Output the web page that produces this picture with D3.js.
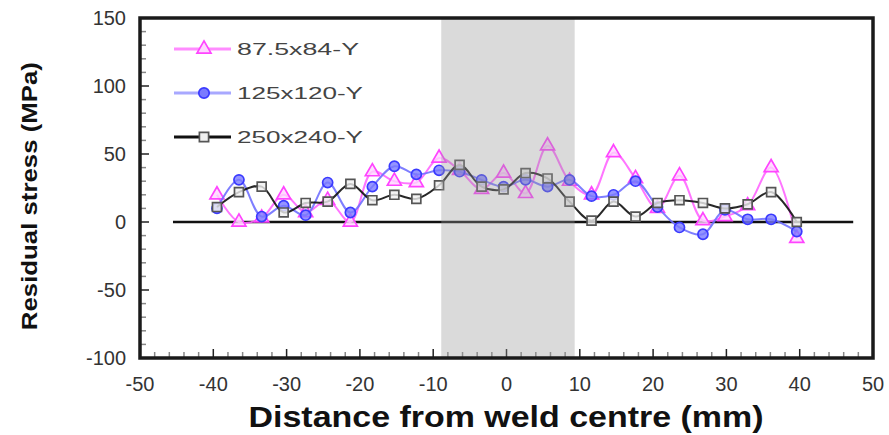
<!DOCTYPE html>
<html>
<head>
<meta charset="utf-8">
<script src="https://cdn.jsdelivr.net/npm/d3@7"></script>
<style>
  body { margin: 0; background: #fff; }
  svg text { font-family: "Liberation Sans", Arial, sans-serif; }
</style>
</head>
<body>
<svg id="main_svg_container" width="889" height="435"></svg>
<script>
// distance from weld centre (mm)
var positions = [-39.5, -36.5, -33.4, -30.4, -27.4, -24.4, -21.3, -18.3, -15.3, -12.3, -9.2, -6.4, -3.4, -0.4,
                 2.6, 5.6, 8.6, 11.6, 14.6, 17.6, 20.6, 23.6, 26.8, 29.8, 32.9, 36.1, 39.6];

// residual stress (MPa)
var stress_87 = [20, 0, 3, 20, 7, 16, 0, 37, 30, 29, 47, 38, 24, 36,
                 21, 56, 30, 20, 51, 32, 10, 34, 1, 4, 12, 40, -12];
var stress_125 = [10, 31, 4, 12, 5, 29, 7, 26, 41, 35, 38, 37, 31, 26,
                  31, 26, 31, 19, 20, 30, 11, -4, -9, 9, 2, 2, -7];
var stress_250 = [11, 22, 26, 7, 14, 15, 28, 16, 20, 17, 27, 42, 26, 24,
                  36, 32, 15, 1, 15, 4, 14, 16, 14, 10, 13, 22, 0];

var series_names = ["87.5x84-Y", "125x120-Y", "250x240-Y"];
var x_ticks = [-50, -40, -30, -20, -10, 0, 10, 20, 30, 40, 50];
var y_ticks = [-100, -50, 0, 50, 100, 150];
var weld_zone = [-8.9, 9.3];

var svg = d3.select("#main_svg_container");
var plot_left = 140, plot_right = 873, plot_top = 18, plot_bottom = 358;

var x = d3.scaleLinear().domain([-50, 50]).range([plot_left, plot_right]);
var y = d3.scaleLinear().domain([-100, 150]).range([plot_bottom, plot_top]);

// Minor / major ticks (pointing inwards)
var xMinor = d3.range(-50, 51, 2);
var yMinor = d3.range(-100, 151, 10);

svg.append("g")
    .selectAll("line")
    .data(xMinor)
    .enter()
    .append("line")
    .attr("x1", function(d) { return x(d); })
    .attr("x2", function(d) { return x(d); })
    .attr("y1", plot_bottom)
    .attr("y2", function(d) { return d % 10 === 0 ? plot_bottom - 9 : plot_bottom - 6; })
    .attr("stroke", function(d) { return d % 10 === 0 ? "#222" : "#888"; })
    .attr("stroke-width", 1.5);

svg.append("g")
    .selectAll("line")
    .data(yMinor)
    .enter()
    .append("line")
    .attr("x1", plot_left)
    .attr("x2", function(d) { return d % 50 === 0 ? plot_left + 9 : plot_left + 6; })
    .attr("y1", function(d) { return y(d); })
    .attr("y2", function(d) { return y(d); })
    .attr("stroke", function(d) { return d % 50 === 0 ? "#222" : "#888"; })
    .attr("stroke-width", 1.5);

// Zero line
svg.append("line")
    .attr("x1", x(-45.5))
    .attr("x2", x(47.3))
    .attr("y1", y(0))
    .attr("y2", y(0))
    .attr("stroke", "#111")
    .attr("stroke-width", 2.5);

// Series
var series = [
  { name: series_names[0], values: stress_87, color: "#ff44ff", line: "#ff66ff", legendLine: "#ff8cff", shape: d3.symbolTriangle, fill: "#ffd6ff", width: 122 },
  { name: series_names[1], values: stress_125, color: "#3a3aff", line: "#7070ff", legendLine: "#a8a8ff", shape: d3.symbolCircle, fill: "#7a7aff", width: 126 },
  { name: series_names[2], values: stress_250, color: "#555", line: "#111", legendLine: "#111", shape: d3.symbolSquare, fill: "#f0f0f0", width: 126 }
];

var line = d3.line()
    .x(function(d) { return x(d[0]); })
    .y(function(d) { return y(d[1]); })
    .curve(d3.curveCatmullRom.alpha(0.5));

series.forEach(function(s) {
  var pts = positions.map(function(p, i) { return [p, s.values[i]]; });
  svg.append("path")
      .datum(pts)
      .attr("d", line)
      .attr("fill", "none")
      .attr("stroke", s.line)
      .attr("stroke-width", 2)
      .attr("stroke-opacity", 0.9);
  svg.append("g")
      .selectAll("path")
      .data(pts)
      .enter()
      .append("path")
      .attr("transform", function(d) { return "translate(" + x(d[0]) + "," + y(d[1]) + ")"; })
      .attr("d", d3.symbol().type(s.shape).size(s.shape === d3.symbolTriangle ? 85 : 80))
      .attr("fill", s.fill)
      .attr("fill-opacity", 0.8)
      .attr("stroke", s.color)
      .attr("stroke-width", 1.7);
});

// Weld zone band (drawn over the data)
svg.append("rect")
    .attr("x", x(weld_zone[0]))
    .attr("y", plot_top)
    .attr("width", x(weld_zone[1]) - x(weld_zone[0]))
    .attr("height", plot_bottom - plot_top)
    .attr("fill", "#999")
    .attr("fill-opacity", 0.36);

// Frame
svg.append("rect")
    .attr("x", plot_left)
    .attr("y", plot_top)
    .attr("width", plot_right - plot_left)
    .attr("height", plot_bottom - plot_top)
    .attr("fill", "none")
    .attr("stroke", "#1a1a1a")
    .attr("stroke-width", 3.5);

// Tick labels
svg.append("g")
    .selectAll("text")
    .data(x_ticks)
    .enter()
    .append("text")
    .attr("x", function(d) { return x(d); })
    .attr("y", 391)
    .attr("text-anchor", "middle")
    .attr("font-size", 20)
    .attr("fill", "#333")
    .text(function(d) { return d; });

svg.append("g")
    .selectAll("text")
    .data(y_ticks)
    .enter()
    .append("text")
    .attr("x", 126)
    .attr("y", function(d) { return y(d) + 7; })
    .attr("text-anchor", "end")
    .attr("font-size", 20)
    .attr("fill", "#333")
    .text(function(d) { return d; });

// Axis titles
svg.append("text")
    .attr("x", 506)
    .attr("y", 427)
    .attr("text-anchor", "middle")
    .attr("font-size", 29)
    .attr("font-weight", "bold")
    .attr("fill", "#111")
    .attr("textLength", 515)
    .attr("lengthAdjust", "spacingAndGlyphs")
    .text("Distance from weld centre (mm)");

svg.append("text")
    .attr("transform", "translate(37," + y(19) + ") rotate(-90)")
    .attr("text-anchor", "middle")
    .attr("font-size", 22)
    .attr("font-weight", "bold")
    .attr("fill", "#111")
    .attr("textLength", 268)
    .attr("lengthAdjust", "spacingAndGlyphs")
    .text("Residual stress (MPa)");

// Legend
var legend = svg.append("g");
series.forEach(function(s, i) {
  var ly = 49 + i * 44;
  legend.append("line")
      .attr("x1", 174).attr("x2", 231)
      .attr("y1", ly).attr("y2", ly)
      .attr("stroke", s.legendLine)
      .attr("stroke-width", 3);
  legend.append("path")
      .attr("transform", "translate(204," + ly + ")")
      .attr("d", d3.symbol().type(s.shape).size(85))
      .attr("fill", s.fill)
      .attr("stroke", s.color)
      .attr("stroke-width", 1.7);
  legend.append("text")
      .attr("x", 237)
      .attr("y", ly + 6)
      .attr("font-size", 17)
      .attr("fill", "#444")
      .attr("textLength", s.width)
      .attr("lengthAdjust", "spacingAndGlyphs")
      .text(s.name);
});
</script>
</body>
</html>
